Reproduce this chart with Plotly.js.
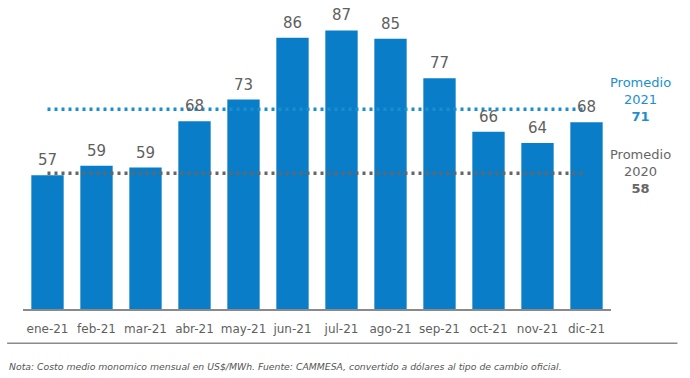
<!DOCTYPE html>
<html><head><meta charset="utf-8">
<script src="https://cdn.plot.ly/plotly-3.0.1.min.js"></script>
<style>html,body{margin:0;padding:0;background:#fff;}#chart{width:690px;height:378px;}</style>
</head><body><div id="chart"></div>
<script>
const months = ['ene-21','feb-21','mar-21','abr-21','may-21','jun-21','jul-21','ago-21','sep-21','oct-21','nov-21','dic-21'];
const costValues = [57.0, 59.0, 58.6, 68.2, 72.7, 85.5, 87.0, 85.3, 77.1, 66.0, 63.7, 68.0];
const costLabels = ['57','59','59','68','73','86','87','85','77','66','64','68'];
const avg2021 = 70.7;
const avg2020 = 57.4;
const avg2021Label = '71';
const avg2020Label = '58';
const noteText = 'Nota: Costo medio monomico mensual en US$/MWh. Fuente: CAMMESA, convertido a dólares al tipo de cambio oficial.';

const BLUE = '#0a7dc8';
const GRAY = '#5f5f5f';
const FONT = 'DejaVu Sans, Verdana, sans-serif';

const traces = [
  {type:'bar', x: months, y: costValues, marker:{color: BLUE}, hoverinfo:'none', showlegend:false},
  {type:'scatter', mode:'lines', x:[months[0], months[months.length-1]], y:[avg2021, avg2021],
   line:{color:'#1a8fd0', width:3.5, dash:'3px,4px'}, showlegend:false, hoverinfo:'none'},
  {type:'scatter', mode:'lines', x:[months[0], months[months.length-1]], y:[avg2020, avg2020],
   line:{color:'#666666', width:3.5, dash:'3px,4px'}, showlegend:false, hoverinfo:'none'}
];

const annotations = months.map((m, i) => ({
  x: m, y: costValues[i], xref:'x', yref:'y', text: costLabels[i], showarrow:false,
  yanchor:'bottom', yshift:4, font:{family: FONT, size:15, color: GRAY}
}));
annotations.push({xref:'paper', yref:'y', x:1.051, y:avg2021, xanchor:'center', yanchor:'middle', showarrow:false,
  text:'Promedio<br>2021<br><b>'+avg2021Label+'</b>', align:'center',
  font:{family: FONT, size:13, color:'#1a8fd0'}, yshift:10});
annotations.push({xref:'paper', yref:'y', x:1.051, y:avg2020, xanchor:'center', yanchor:'middle', showarrow:false,
  text:'Promedio<br>2020<br><b>'+avg2020Label+'</b>', align:'center',
  font:{family: FONT, size:13, color:'#666666'}, yshift:2});
annotations.push({xref:'paper', yref:'paper', x:-0.027, y:-0.195, xanchor:'left', yanchor:'middle', showarrow:false,
  text:'<i>'+noteText+'</i>', font:{family: FONT, size:9.3, color:'#555555'}});

const layout = {
  width:690, height:378,
  margin:{l:23, r:79, t:16, b:69},
  paper_bgcolor:'#ffffff', plot_bgcolor:'#ffffff',
  bargap:0.34,
  xaxis:{type:'category', showgrid:false, zeroline:false, showline:true, linecolor:'#8a8a8a', linewidth:1.5,
         ticks:'outside', ticklen:8, tickcolor:'rgba(0,0,0,0)', tickfont:{family: FONT, size:12, color: GRAY}},
  yaxis:{range:[29.3, 90], showgrid:false, zeroline:false, showticklabels:false, showline:false},
  shapes:[{type:'line', xref:'paper', yref:'paper', x0:-0.027, x1:1.113, y0:-0.117, y1:-0.117,
           line:{color:'#8a8a8a', width:1.5}}],
  annotations: annotations,
  font:{family: FONT}
};

Plotly.newPlot('chart', traces, layout, {displayModeBar:false, staticPlot:true});
</script></body></html>
